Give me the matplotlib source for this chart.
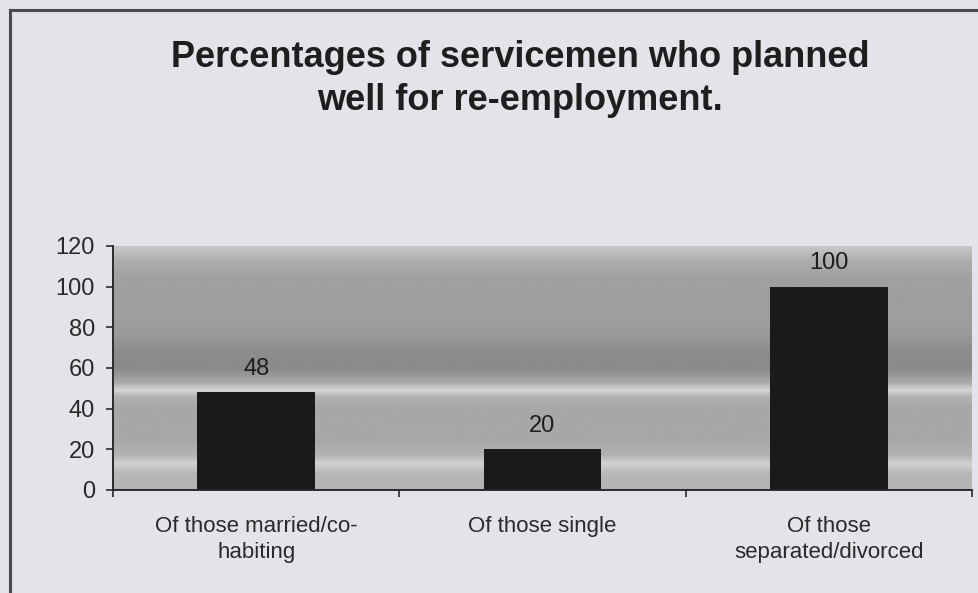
import matplotlib.pyplot as plt
from matplotlib.lines import Line2D
import numpy as np

# Survey result per marital status group
categories = ["Of those married/co-\nhabiting", "Of those single", "Of those\nseparated/divorced"]
percentages = [48, 20, 100]
y_ticks = [0, 20, 40, 60, 80, 100, 120]

# Shading bands for the plot area backdrop (height on value axis, grey level)
band_heights = [0, 8, 13, 17, 25, 40, 46, 49, 53, 60, 68, 76, 85, 95, 105, 113, 120]
band_greys = [0.70, 0.72, 0.82, 0.70, 0.66, 0.66, 0.70, 0.84, 0.66, 0.54, 0.55, 0.60, 0.62, 0.62, 0.63, 0.68, 0.78]

plt.rcParams['font.family'] = ['Liberation Sans', 'DejaVu Sans']

fig = plt.figure(figsize=(9.79, 5.93), dpi=100)
fig.patch.set_facecolor('#e3e4e9')

# Chart frame (runs off the right and bottom edges)
fig.add_artist(Line2D([10 / 979, 10 / 979], [0, 1 - 10 / 593], transform=fig.transFigure,
                      color='#4a4a4e', lw=2.2))
fig.add_artist(Line2D([10 / 979, 1], [1 - 10 / 593, 1 - 10 / 593], transform=fig.transFigure,
                      color='#4a4a4e', lw=2.2))

fig.text(0.531, 1 - 79 / 593, "Percentages of servicemen who planned\nwell for re-employment.",
         ha='center', va='center', fontsize=26, fontweight='bold', linespacing=1.33, color='#1e1e1e')

ax = fig.add_axes([113 / 979, 1 - 490 / 593, (972 - 113) / 979, (490 - 246) / 593])

# Banded grey backdrop
ys = np.linspace(0, 120, 241)
col = np.interp(ys, band_heights, band_greys)
ax.imshow(col[:, None] * np.ones((1, 4)), cmap='gray', vmin=0, vmax=1, origin='lower',
          extent=[-0.5, 2.5, 0, 120], aspect='auto', interpolation='bicubic', zorder=0)

x = np.arange(len(categories))
bars = ax.bar(x, percentages, width=0.41, color='#1b1a1a', zorder=2)
for b, v in zip(bars, percentages):
    ax.annotate(str(v), (b.get_x() + b.get_width() / 2, v), xytext=(0, 9),
                textcoords='offset points', ha='center', va='bottom', fontsize=17, color='#1e1e1e')

ax.set_xlim(-0.5, 2.5)
ax.set_ylim(0, 120)
ax.set_yticks(y_ticks)
ax.tick_params(axis='y', length=5, width=1.2, pad=8, labelsize=17, colors='#2a2a2a')

# Tick marks at category boundaries, labels at category centres
ax.set_xticks([-0.5, 0.5, 1.5, 2.5])
ax.set_xticklabels([])
ax.tick_params(axis='x', which='major', length=5, width=1.2, colors='#2a2a2a')
ax.set_xticks(x, minor=True)
ax.set_xticklabels(categories, minor=True, fontsize=16, linespacing=1.3)
ax.tick_params(axis='x', which='minor', length=0, pad=19, colors='#2a2a2a')

for side in ['top', 'right']:
    ax.spines[side].set_visible(False)
for side in ['left', 'bottom']:
    ax.spines[side].set_color('#2a2a2a')
    ax.spines[side].set_linewidth(1.4)

fig.savefig('out.png', dpi=100, facecolor=fig.get_facecolor())
